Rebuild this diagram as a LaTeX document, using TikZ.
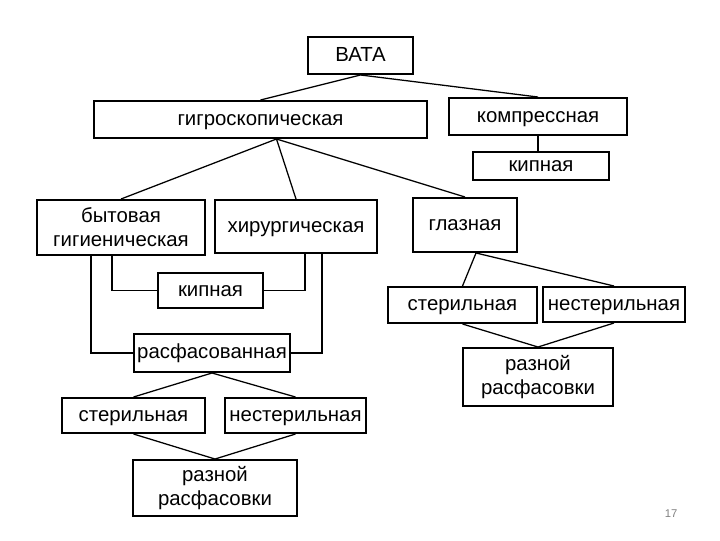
\documentclass[tikz,border=0pt]{standalone}
\usepackage{fontspec}
\setmainfont{Liberation Sans}
\usetikzlibrary{calc}

\begin{document}
\begin{tikzpicture}[x=0.025cm, y=-0.025cm,
  box/.style={draw, line width=1.4pt, align=center, inner sep=1pt, font=\fontsize{14.5}{17}\selectfont},
  onebox/.style={box, text height=11.5pt, text depth=3pt},
  link/.style={line width=0.9pt}]
\useasboundingbox (0,0) rectangle (720,540);
%        \draw[very thin,color=gray] (0,0) grid[step=20] (720,540);
\node[onebox, minimum width=2.625cm, minimum height=0.925cm] (vata) at (360.5,55.5) {ВАТА};
\node[onebox, minimum width=8.325cm, minimum height=0.925cm] (gigro) at (260.5,119.5) {гигроскопическая};
\node[onebox, minimum width=4.45cm, minimum height=0.925cm] (kompr) at (538,116.5) {компрессная};
\node[onebox, minimum width=3.4cm, minimum height=0.7cm] (kip1) at (541,166) {кипная};
\node[box, minimum width=4.2cm, minimum height=1.375cm] (byt) at (121,227.5) {бытовая\\гигиеническая};
\node[onebox, minimum width=4.05cm, minimum height=1.325cm] (hir) at (296,226.5) {хирургическая};
\node[onebox, minimum width=2.6cm, minimum height=1.35cm] (glaz) at (465,225) {глазная};
\node[onebox, minimum width=2.625cm, minimum height=0.875cm] (kip2) at (210.5,290.5) {кипная};
\node[onebox, minimum width=3.725cm, minimum height=0.9cm] (ster1) at (462.5,305) {стерильная};
\node[onebox, minimum width=3.55cm, minimum height=0.875cm] (nester1) at (614,304.5) {нестерильная};
\node[onebox, minimum width=3.9cm, minimum height=0.95cm] (rasf) at (212,353) {расфасованная};
\node[box, minimum width=3.75cm, minimum height=1.45cm] (raz1) at (538,377) {разной\\расфасовки};
\node[onebox, minimum width=3.575cm, minimum height=0.875cm] (ster2) at (133.5,415.5) {стерильная};
\node[onebox, minimum width=3.525cm, minimum height=0.875cm] (nester2) at (295.5,415.5) {нестерильная};
\node[box, minimum width=4.1cm, minimum height=1.4cm] (raz2) at (215,488) {разной\\расфасовки};
\node[text=gray, font=\fontsize{8}{10}\selectfont] (page) at (671,514) {17};

\draw[link] (vata.south) -- (gigro.north);
\draw[link] (vata.south) -- (kompr.north);
\draw[link] (kompr.south) -- (kompr.south |- kip1.north);

\coordinate (gj) at ($(gigro.south)+(16,0)$);
\draw[link] (gj) -- (byt.north);
\draw[link] (gj) -- (hir.north);
\draw[link] (gj) -- (glaz.north);

\draw[link] ($(byt.south)+(-9,0)$) |- (kip2.west);
\draw[link] ($(byt.south)+(-30,0)$) |- (rasf.west);
\draw[link] ($(hir.south)+(9,0)$) |- (kip2.east);
\draw[link] ($(hir.south)+(26,0)$) |- (rasf.east);

\coordinate (gz) at ($(glaz.south)+(11,0)$);
\draw[link] (gz) -- (ster1.north);
\draw[link] (gz) -- (nester1.north);
\draw[link] (ster1.south) -- (raz1.north) -- (nester1.south);

\draw[link] (rasf.south) -- (ster2.north);
\draw[link] (rasf.south) -- (nester2.north);
\draw[link] (ster2.south) -- (raz2.north) -- (nester2.south);

\end{tikzpicture}
\end{document}
